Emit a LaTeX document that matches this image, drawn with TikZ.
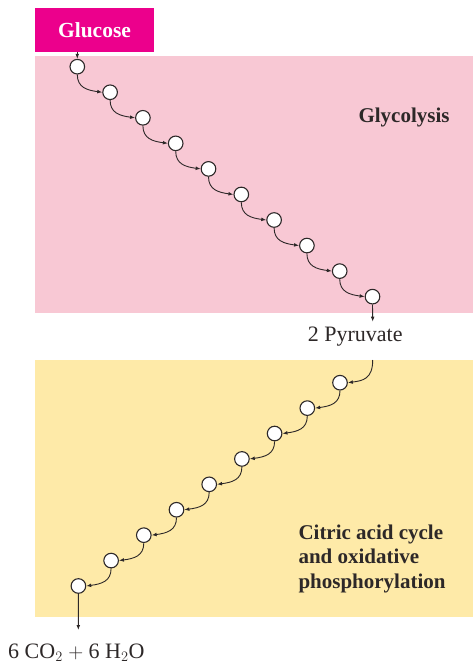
\documentclass[tikz,border=0pt]{standalone}
\usepackage{fontspec}
\setmainfont{Liberation Serif}
\usetikzlibrary{arrows.meta}
\definecolor{glpink}{RGB}{248,200,212}
\definecolor{cayellow}{RGB}{254,234,168}
\definecolor{glmag}{RGB}{236,0,140}
\definecolor{ink}{RGB}{45,40,40}
\begin{document}
\begin{tikzpicture}[x=1pt,y=-1pt,
  stagecircle/.style={circle,draw=ink,fill=white,line width=1.1pt,minimum size=14.6pt,inner sep=0pt},
  flow/.style={draw=ink,line width=0.9pt,-{Latex[length=5pt,width=3.8pt]}},
  labeltext/.style={inner sep=0pt,text=ink,font=\fontsize{22}{24.5}\selectfont},
  boldlabel/.style={inner sep=0pt,text=ink,font=\fontsize{21}{24.5}\selectfont\bfseries}]
\useasboundingbox (0,0) rectangle (473,664);
% regions
\fill[glpink] (35,55.7) rectangle (473,313.3);
\fill[cayellow] (35,360) rectangle (473,617.3);
\node[fill=glmag,minimum width=119pt,minimum height=44pt,inner sep=0pt,text=white,font=\fontsize{21.5}{24.5}\selectfont\bfseries] (glucose) at (94.5,30) {Glucose};
% glycolysis circles
\foreach \i in {0,...,9} {
  \node[stagecircle] (g\i) at ({77.3+32.8*\i},{66.7+25.55*\i}) {};
}
% citric acid circles
\foreach \j in {0,...,8} {
  \node[stagecircle] (y\j) at ({340-32.7*\j},{382.7+25.41*\j}) {};
}
% labels
\node[boldlabel,anchor=base west] (glylabel) at (358.3,122.3) {Glycolysis};
\node[labeltext,anchor=base west] (pyr) at (307.7,341.7) {2 Pyruvate};
\node[boldlabel,anchor=north west,align=left] (citlabel) at (298.3,524.5) {Citric acid cycle\\and oxidative\\phosphorylation};
\node[labeltext,anchor=base west] (prod) at (8,658) {6 CO$_2$ $+$ 6 H$_2$O};
% connector endpoints
\coordinate (pyrtip) at (372.7,321.7);
\coordinate (pyrstart) at (372.7,360);
\coordinate (prodtip) at (78.3,630);
% connectors
\draw[flow] (glucose.south -| g0) -- (g0.north);
\foreach \i [evaluate=\i as \n using int(\i+1)] in {0,...,8} {
  \draw[flow] (g\i.south) .. controls +(0,13) and +(-15,-2) .. (g\n.west);
}
\draw[flow] (g9.south) -- (pyrtip);
\draw[flow] (pyrstart) .. controls +(0,19) and +(15,-2) .. (y0.east);
\foreach \j [evaluate=\j as \n using int(\j+1)] in {0,...,7} {
  \draw[flow] (y\j.south) .. controls +(0,13) and +(15,-2) .. (y\n.east);
}
\draw[flow] (y8.south) -- (prodtip);
\end{tikzpicture}
\end{document}
